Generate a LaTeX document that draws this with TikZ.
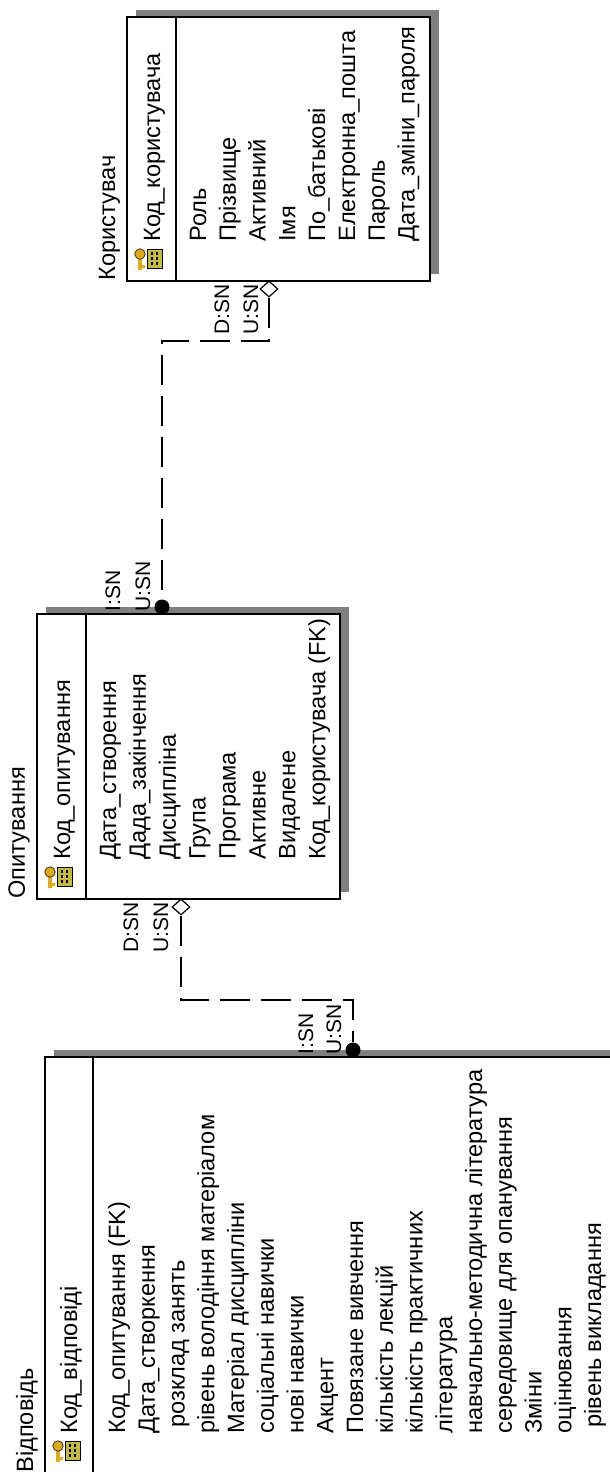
\documentclass[tikz,border=0pt]{standalone}
\usepackage{fontspec}
\setmainfont{Liberation Sans}
\usetikzlibrary{shapes.geometric}
\definecolor{keygold}{RGB}{222,170,30}
\definecolor{keybox}{RGB}{196,186,60}

\tikzset{
  ent/.style={draw, line width=1pt, fill=white},
  shd/.style={fill=black!50},
  fld/.style={rotate=90, anchor=base west, inner sep=0pt, font=\fontsize{11.8}{14}\selectfont},
  card/.style={rotate=90, anchor=base west, inner sep=0pt, font=\fontsize{10.5}{12}\selectfont},
  rel/.style={line width=0.8pt, dash pattern=on 15pt off 5.5pt},
  diam/.style={diamond, draw, fill=white, line width=0.6pt, inner sep=0pt, minimum width=9pt, minimum height=8pt},
  fkdot/.style={circle, fill, inner sep=0pt, minimum size=7.5pt},
  keyicon/.pic={
    \draw[line width=0.4pt, fill=keybox] (20,-32) rectangle (35,-13);
    \draw[line width=0.9pt, dash pattern=on 1.5pt off 1pt] (25,-29) -- (25,-16) (30,-29) -- (30,-16);
    \fill[keygold] (11,-22) rectangle (15,-11) (15,-16) rectangle (18,-13);
    \draw[fill=keygold, draw=black!60!brown, line width=0.4pt] (13,-27) circle (2.6pt);
  }
}

\begin{document}
\begin{tikzpicture}[x=0.5pt, y=-0.5pt]
\useasboundingbox (0,0) rectangle (610,1472);
\clip (0,0) rectangle (610,1472);

% Користувач
\fill[shd] (136,10) rectangle (439,274);
\draw[ent] (127,17) rectangle (430,281);
\draw[line width=1pt] (176,17) -- (176,281);
\node[fld] (korT) at (115,281) {Користувач};
\pic at (127,281) {keyicon};
\node[fld] (korK) at (160,242) {Код\_користувача};
\foreach \t [count=\i] in {Роль, Прізвище, Активний, Імя, По\_батькові,
    Електронна\_пошта, Пароль, Дата\_зміни\_пароля}
  \node[fld] (korA\i) at ({206+29.8*(\i-1)},242) {\t};

% Опитування
\fill[shd] (46,607) rectangle (349,892);
\draw[ent] (37,614) rectangle (340,899);
\draw[line width=1pt] (86,614) -- (86,899);
\node[fld] (opyT) at (25,899) {Опитування};
\pic at (37,899) {keyicon};
\node[fld] (opyK) at (70,860) {Код\_опитування};
\foreach \t [count=\i] in {Дата\_створення, Дада\_закінчення, Дисципліна, Група,
    Програма, Активне, Видалене, Код\_користувача (FK)}
  \node[fld] (opyA\i) at ({116+29.9*(\i-1)},860) {\t};

% Відповідь
\fill[shd] (54,1050) rectangle (720,1520);
\draw[ent] (45,1057) rectangle (711,1530);
\draw[line width=1pt] (93,1057) -- (93,1530);
\node[fld] (vidT) at (33,1473) {Відповідь};
\pic at (45,1473) {keyicon};
\node[fld] (vidK) at (77,1434) {Код\_відповіді};
\foreach \t [count=\i] in {Код\_опитування (FK), Дата\_створкення, \hspace{3pt}розклад занять,
    рівень володіння матеріалом, Матеріал дисципліни, соціальні навички, нові навички,
    Акцент, Повязане вивчення, кількість лекцій, кількість практичних, література,
    навчально-методична література, середовище для опанування, Зміни, оцінювання,
    \hspace{3pt}рівень викладання}
  \node[fld] (vidA\i) at ({125+29.75*(\i-1)},1434) {\t};

% Користувач -- Опитування
\node[card] (korD) at (229,335) {D:SN};
\node[card] (korU) at (258,335) {U:SN};
\node[card] (opyI) at (120,612) {I:SN};
\node[card] (opyU) at (150,612) {U:SN};
\node[diam] (korDia) at (269,289) {};
\node[fkdot] (opyDot) at (162,607) {};
\coordinate (korBend) at (162,341);
\draw[rel] (korDia.south) |- (korBend) -- (opyDot);

% Опитування -- Відповідь
\node[card] (opyD2) at (138,953) {D:SN};
\node[card] (opyU2) at (168,953) {U:SN};
\node[card] (vidI) at (313,1055) {I:SN};
\node[card] (vidU) at (341,1055) {U:SN};
\node[diam] (opyDia) at (181,907) {};
\node[fkdot] (vidDot) at (353,1050) {};
\coordinate (opyBend) at (353,1000);
\draw[rel] (opyDia.south) |- (opyBend) -- (vidDot);
\end{tikzpicture}
\end{document}
